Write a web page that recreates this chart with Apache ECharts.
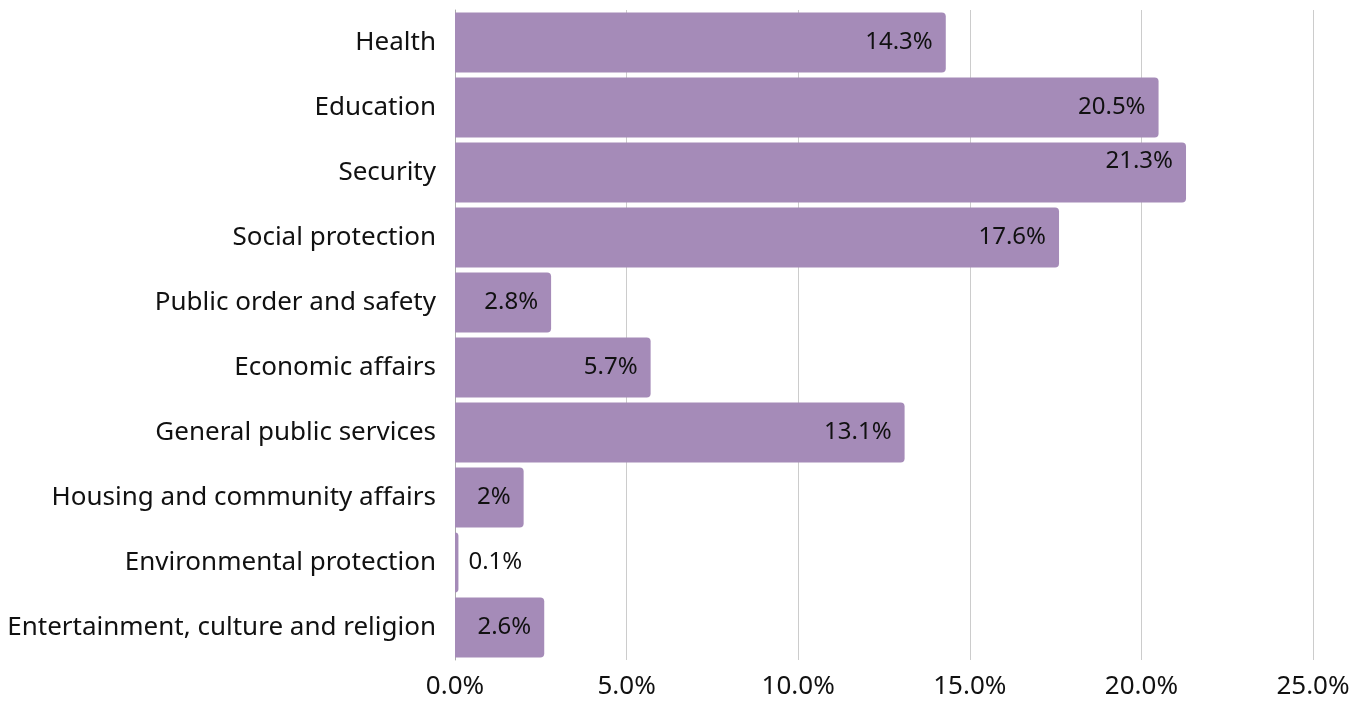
<!DOCTYPE html>
<html>
<head>
<meta charset="utf-8">
<script src="https://cdn.jsdelivr.net/npm/echarts@6/dist/echarts.min.js"></script>
<style>
html,body{margin:0;padding:0;background:#fff;}
#chart{width:1354px;height:702px;}
</style>
</head>
<body>
<div id="chart"></div>
<script>
const categories = ["Health","Education","Security","Social protection","Public order and safety","Economic affairs","General public services","Housing and community affairs","Environmental protection","Entertainment, culture and religion"];
const values = [14.3, 20.5, 21.3, 17.6, 2.8, 5.7, 13.1, 2, 0.1, 2.6];
const xTicks = {min: 0, max: 25, interval: 5};

const FONT = "'Noto Sans', 'Open Sans', sans-serif";
const chart = echarts.init(document.getElementById('chart'));
const seriesData = values.map((v, i) => {
  const item = {value: v};
  if (v < 1) {
    item.label = {position: 'right', distance: 10};
  } else if (categories[i] === 'Security') {
    item.label = {offset: [0, -11]};
  }
  return item;
});
chart.setOption({
  animation: false,
  grid: {left: 455, right: 41, top: 10, bottom: 42, containLabel: false},
  xAxis: {
    type: 'value', min: xTicks.min, max: xTicks.max, interval: xTicks.interval,
    axisLine: {show: false}, axisTick: {show: false},
    splitLine: {show: true, lineStyle: {color: '#cccccc', width: 1}},
    axisLabel: {color: '#111', fontSize: 26, fontFamily: FONT, margin: 14,
      formatter: v => v.toFixed(1) + '%'}
  },
  yAxis: {
    type: 'category', data: categories, inverse: true,
    axisLine: {show: true, lineStyle: {color: '#aaaaaa', width: 1}},
    axisTick: {show: false},
    axisLabel: {color: '#111', fontSize: 26, fontFamily: FONT, margin: 19}
  },
  series: [{
    type: 'bar', data: seriesData, barCategoryGap: '8%',
    itemStyle: {color: '#a58bb8', borderRadius: [0, 4, 4, 0]},
    label: {show: true, position: 'insideRight', distance: 13, color: '#111',
      fontSize: 24, fontFamily: FONT, formatter: p => p.value + '%'}
  }]
});
</script>
</body>
</html>
